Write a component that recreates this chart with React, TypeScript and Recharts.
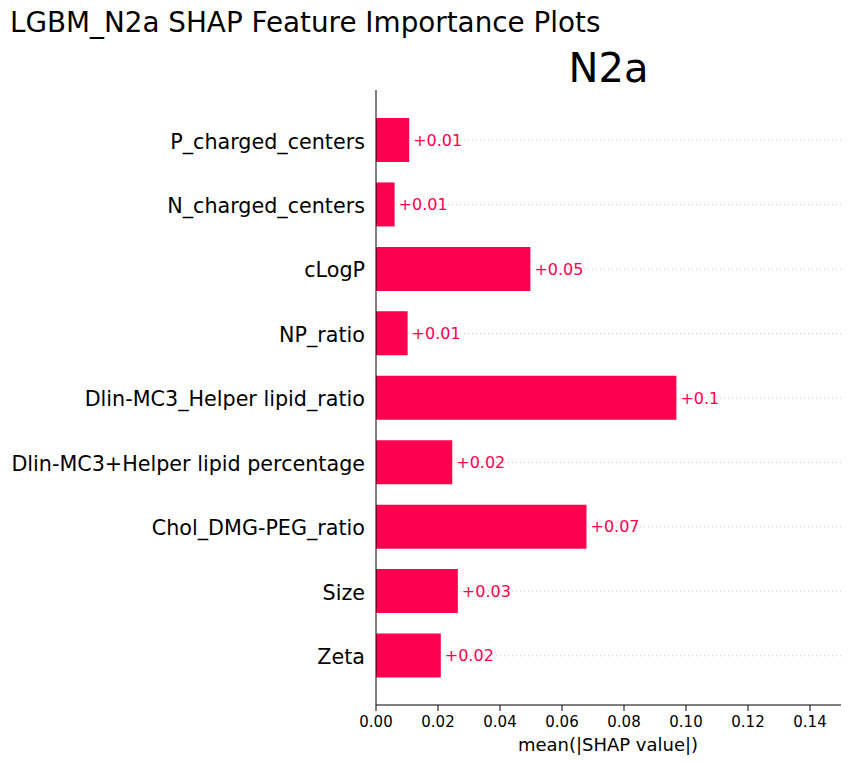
import React from 'react';
import { BarChart, Bar, XAxis, YAxis, CartesianGrid, LabelList } from 'recharts';

const features = [
  'P_charged_centers',
  'N_charged_centers',
  'cLogP',
  'NP_ratio',
  'Dlin-MC3_Helper lipid_ratio',
  'Dlin-MC3+Helper lipid percentage',
  'Chol_DMG-PEG_ratio',
  'Size',
  'Zeta',
];
const shapValues = [0.0107, 0.006, 0.0498, 0.0102, 0.0969, 0.0246, 0.0679, 0.0264, 0.0209];
const xTicks = [0, 0.02, 0.04, 0.06, 0.08, 0.1, 0.12, 0.14];

const suptitle = 'LGBM_N2a SHAP Feature Importance Plots';
const title = 'N2a';
const xLabel = 'mean(|SHAP value|)';

const data = features.map((name, i) => ({ name, value: shapValues[i] }));

const FONT = 'DejaVu Sans, sans-serif';
const RED = '#ff0051';
const PAD_TOP = 18;
const PAD_BOTTOM = 17;

const fmt = (v: number) => {
  let s = v.toFixed(2);
  s = s.replace(/0+$/, '').replace(/\.$/, '');
  return '+' + s;
};

const YTick = (props: any) => {
  const { x, y, payload } = props;
  return (
    <text x={x} y={y} textAnchor="end" dy="0.4em" fontSize={20.7} fontFamily={FONT} fill="#000">
      {payload.value}
    </text>
  );
};

const ValueLabel = (props: any) => {
  const { x, y, width, height, value } = props;
  return (
    <text
      x={x + width + 4}
      y={y + height / 2}
      dy="0.36em"
      fontSize={16}
      fontFamily={FONT}
      fill={RED}
      textAnchor="start"
    >
      {fmt(value)}
    </text>
  );
};

// grid lines at the centre of each category band (same band layout as the Y axis)
const gridGen = (props: any) => {
  const { offset } = props;
  const top = offset.top + PAD_TOP;
  const band = (offset.height - PAD_TOP - PAD_BOTTOM) / features.length;
  return features.map((_, i) => top + band * (i + 0.5));
};

export default function App() {
  return (
    <div style={{ position: 'absolute', left: 0, top: 0, width: 850, height: 764, background: '#fff' }}>
      <BarChart
        width={850}
        height={764}
        data={data}
        layout="vertical"
        margin={{ top: 90, right: 9, bottom: 9, left: 0 }}
      >
        <CartesianGrid
          horizontal={true}
          vertical={false}
          stroke="#cccccc"
          strokeDasharray="1 3"
          horizontalCoordinatesGenerator={gridGen}
        />
        <XAxis
          type="number"
          domain={[0, 0.15]}
          ticks={xTicks}
          allowDataOverflow
          height={50}
          tickFormatter={(v: number) => v.toFixed(2)}
          tick={{ fontSize: 15, fontFamily: FONT, fill: '#000' }}
          tickSize={6}
          tickMargin={5}
          axisLine={{ stroke: '#000', strokeWidth: 1 }}
          tickLine={{ stroke: '#000', strokeWidth: 1 }}
        />
        <YAxis
          type="category"
          dataKey="name"
          width={376}
          tick={<YTick />}
          tickSize={0}
          tickMargin={11}
          tickLine={false}
          axisLine={{ stroke: '#000', strokeWidth: 1 }}
          padding={{ top: PAD_TOP, bottom: PAD_BOTTOM }}
          interval={0}
        />
        <Bar dataKey="value" fill={RED} barSize={44} isAnimationActive={false}>
          <LabelList dataKey="value" content={<ValueLabel />} />
        </Bar>
      </BarChart>
      <svg
        width={850}
        height={764}
        style={{ position: 'absolute', left: 0, top: 0, pointerEvents: 'none' }}
      >
        <text x={10} y={32} fontSize={27.8} fontFamily={FONT} fill="#000">
          {suptitle}
        </text>
        <text x={608.5} y={82} fontSize={40} fontFamily={FONT} fill="#000" textAnchor="middle">
          {title}
        </text>
        <text x={608} y={751} fontSize={18} fontFamily={FONT} fill="#000" textAnchor="middle">
          {xLabel}
        </text>
      </svg>
    </div>
  );
}
